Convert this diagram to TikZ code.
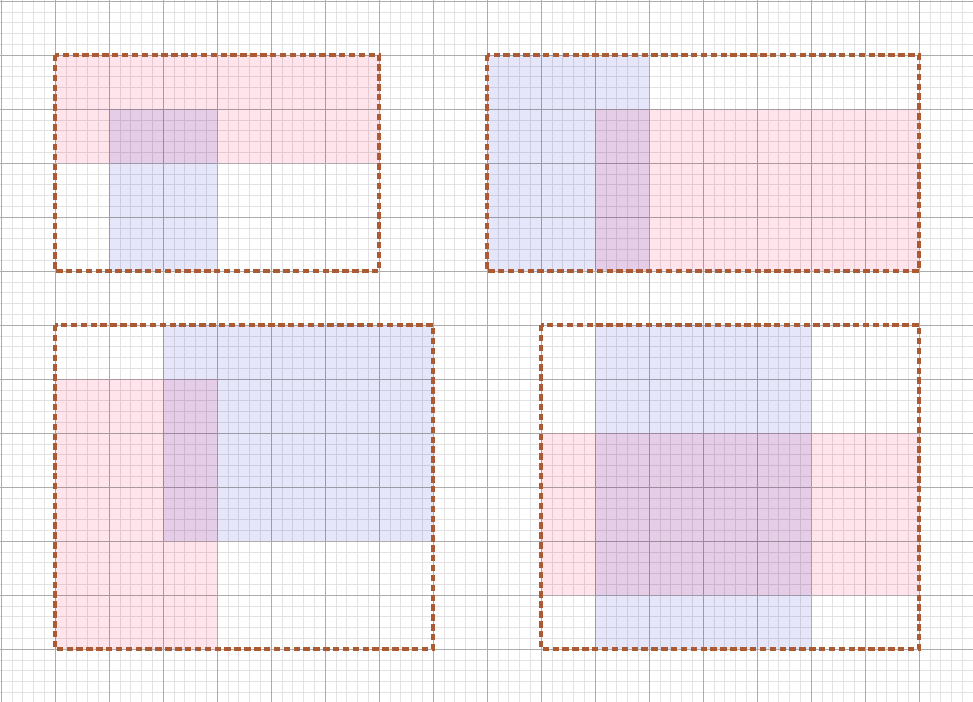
\documentclass[tikz,border=0pt]{standalone}
\begin{document}
\begin{tikzpicture}[y=-1cm]
  % Define colors
  \colorlet{rowfill}{rgb,255:red,255;green,228;blue,236}
  \colorlet{colfill}{rgb,255:red,230;green,230;blue,250}
  \colorlet{boxline}{rgb,255:red,172;green,90;blue,52}
  \tikzset{
    minorline/.style={gray!22, line width=0.3pt},
    majorline/.style={gray!65, line width=0.4pt},
    frame/.style={boxline, line width=1.6pt, dash pattern=on 3.4pt off 1.8pt}
  }

  % Fix the page size
  \useasboundingbox (-0.0185,-0.0185) rectangle (18,12.98);
  \fill[white] (-0.0185,-0.0185) rectangle (18,12.98);

  % Grid
  \foreach \x in {0,0.2,...,18} {
    \draw[minorline] (\x,-0.0185) -- (\x,12.98);
  }
  \foreach \y in {0,0.2,...,12.9} {
    \draw[minorline] (-0.0185,\y) -- (18,\y);
  }
  \foreach \x in {0,...,18} {
    \draw[majorline] (\x,-0.0185) -- (\x,12.98);
  }
  \foreach \y in {0,...,12} {
    \draw[majorline] (-0.0185,\y) -- (18,\y);
  }

  % Filled regions (multiply gives the overlap colour)
  \begin{scope}[blend mode=multiply]
    % top left
    \fill[rowfill] (1,1) rectangle (7,3);
    \fill[colfill] (2,2) rectangle (4,5);
    % top right
    \fill[colfill] (9,1) rectangle (12,5);
    \fill[rowfill] (11,2) rectangle (17,5);
    % bottom left
    \fill[colfill] (3,6) rectangle (8,10);
    \fill[rowfill] (1,7) rectangle (4,12);
    % bottom right
    \fill[colfill] (11,6) rectangle (15,12);
    \fill[rowfill] (10,8) rectangle (17,11);
  \end{scope}

  % Dashed frames
  \draw[frame] (1,1) rectangle (7,5);
  \draw[frame] (9,1) rectangle (17,5);
  \draw[frame] (1,6) rectangle (8,12);
  \draw[frame] (10,6) rectangle (17,12);
\end{tikzpicture}
\end{document}
